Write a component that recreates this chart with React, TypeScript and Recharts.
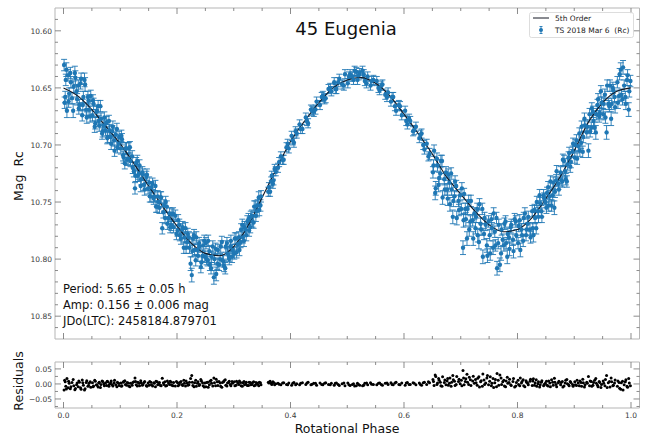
import React from "react";
import { ComposedChart, ScatterChart, Scatter, Line, XAxis, YAxis, ErrorBar } from "recharts";

// ---- first rotation of the night: phase, Rc magnitude, 1-sigma error, residual to fit ----
const cycle1Phase = [
    0.001, 0.003, 0.004, 0.006, 0.008, 0.010, 0.012, 0.015, 0.018, 0.021, 0.024,
    0.026, 0.028, 0.031, 0.033, 0.035, 0.038, 0.040, 0.043, 0.045, 0.048,
    0.051, 0.053, 0.056, 0.058, 0.061, 0.063, 0.066, 0.069, 0.072, 0.074,
    0.076, 0.078, 0.081, 0.084, 0.087, 0.089, 0.092, 0.095, 0.098,
    0.101, 0.103, 0.106, 0.109, 0.112, 0.115, 0.118, 0.121, 0.124,
    0.126, 0.128, 0.131, 0.134, 0.137, 0.140, 0.143, 0.146, 0.149,
    0.151, 0.154, 0.157, 0.160, 0.163, 0.166, 0.169, 0.172, 0.174,
    0.177, 0.179, 0.182, 0.185, 0.188, 0.191, 0.194, 0.197,
    0.201, 0.204, 0.207, 0.210, 0.213, 0.216, 0.219, 0.222, 0.224,
    0.226, 0.228, 0.231, 0.234, 0.237, 0.240, 0.243, 0.246, 0.249,
    0.251, 0.254, 0.257, 0.260, 0.263, 0.266, 0.269, 0.272, 0.274,
    0.277, 0.280, 0.283, 0.286, 0.289, 0.292, 0.295, 0.298,
    0.301, 0.304, 0.307, 0.310, 0.313, 0.316, 0.319, 0.322,
    0.326, 0.329, 0.332, 0.335, 0.338, 0.341, 0.344, 0.347,
    0.361, 0.364, 0.366, 0.369, 0.372,
    0.378, 0.383, 0.388, 0.393, 0.397,
    0.402, 0.406, 0.411, 0.416, 0.421,
    0.427, 0.431, 0.436, 0.441, 0.446,
    0.452, 0.457, 0.462, 0.467, 0.472,
    0.477, 0.481, 0.486, 0.491, 0.496,
    0.501, 0.505, 0.509, 0.513, 0.518, 0.522,
    0.527, 0.531, 0.536, 0.541, 0.546,
    0.552, 0.557, 0.562, 0.567, 0.572,
    0.577, 0.581, 0.586, 0.591, 0.596,
    0.602, 0.606, 0.611, 0.616, 0.621,
    0.627, 0.631, 0.636, 0.640, 0.645,
    0.651, 0.653, 0.656, 0.659, 0.662, 0.665, 0.668, 0.671, 0.674,
    0.676, 0.678, 0.681, 0.684, 0.687, 0.690, 0.693, 0.696, 0.699,
    0.701, 0.704, 0.706, 0.709, 0.712, 0.715, 0.718, 0.721, 0.724,
    0.726, 0.729, 0.732, 0.735, 0.738, 0.741, 0.744, 0.747, 0.749,
    0.751, 0.754, 0.757, 0.760, 0.763, 0.766, 0.769, 0.772, 0.774,
    0.777, 0.780, 0.783, 0.786, 0.789, 0.792, 0.795, 0.798,
    0.801, 0.804, 0.807, 0.810, 0.813, 0.816, 0.819, 0.822,
    0.826, 0.828, 0.831, 0.834, 0.837, 0.840, 0.843, 0.846, 0.849,
    0.851, 0.854, 0.857, 0.860, 0.863, 0.866, 0.869, 0.872,
    0.876, 0.879, 0.882, 0.885, 0.888, 0.891, 0.894, 0.897,
    0.901, 0.904, 0.907, 0.910, 0.913, 0.916, 0.919, 0.922, 0.925,
    0.927, 0.930, 0.933, 0.936, 0.939, 0.942, 0.945, 0.948,
    0.951, 0.954, 0.957, 0.960, 0.963, 0.966, 0.969, 0.972,
    0.976, 0.979, 0.982, 0.985, 0.988, 0.991, 0.994, 0.997, 0.999,
];

const cycle1Mag = [
    10.630, 10.658, 10.643, 10.670, 10.639, 10.655, 10.637, 10.659, 10.649, 10.641, 10.660,
    10.648, 10.665, 10.642, 10.674, 10.658, 10.647, 10.669, 10.658, 10.669, 10.657,
    10.674, 10.664, 10.681, 10.671, 10.666, 10.683, 10.677, 10.688, 10.676, 10.687,
    10.680, 10.693, 10.687, 10.699, 10.684, 10.696, 10.691, 10.702, 10.693,
    10.703, 10.695, 10.711, 10.703, 10.713, 10.703, 10.714, 10.710, 10.723,
    10.738, 10.716, 10.727, 10.718, 10.730, 10.726, 10.739, 10.728, 10.738,
    10.733, 10.745, 10.734, 10.745, 10.754, 10.745, 10.755, 10.746, 10.773,
    10.753, 10.764, 10.754, 10.764, 10.772, 10.761, 10.772, 10.762,
    10.775, 10.770, 10.782, 10.772, 10.781, 10.790, 10.778, 10.790, 10.804,
    10.814, 10.782, 10.792, 10.781, 10.797, 10.789, 10.803, 10.788, 10.798,
    10.786, 10.801, 10.793, 10.808, 10.789, 10.800, 10.813, 10.792, 10.805,
    10.789, 10.801, 10.806, 10.789, 10.795, 10.800, 10.784, 10.792,
    10.795, 10.782, 10.787, 10.792, 10.774, 10.781, 10.772, 10.779,
    10.765, 10.772, 10.762, 10.768, 10.754, 10.758, 10.746, 10.753,
    10.741, 10.741, 10.732, 10.734, 10.721,
    10.720, 10.710, 10.713, 10.702, 10.703,
    10.692, 10.698, 10.690, 10.682, 10.686,
    10.676, 10.681, 10.669, 10.671, 10.662,
    10.665, 10.657, 10.659, 10.651, 10.653,
    10.645, 10.651, 10.642, 10.647, 10.638,
    10.646, 10.638, 10.640, 10.635, 10.643, 10.637,
    10.635, 10.644, 10.640, 10.648, 10.643,
    10.644, 10.652, 10.647, 10.656, 10.654,
    10.662, 10.658, 10.670, 10.665, 10.674,
    10.670, 10.682, 10.679, 10.688, 10.684,
    10.694, 10.690, 10.704, 10.699, 10.708,
    10.724, 10.705, 10.738, 10.718, 10.729, 10.714, 10.746, 10.730, 10.724,
    10.739, 10.726, 10.752, 10.739, 10.749, 10.732, 10.764, 10.749, 10.744,
    10.756, 10.790, 10.743, 10.765, 10.756, 10.774, 10.749, 10.766, 10.760,
    10.773, 10.756, 10.785, 10.769, 10.756, 10.778, 10.770, 10.797, 10.767,
    10.779, 10.765, 10.790, 10.776, 10.764, 10.786, 10.805, 10.774, 10.783,
    10.769, 10.786, 10.778, 10.791, 10.770, 10.783, 10.765, 10.779,
    10.786, 10.766, 10.774, 10.784, 10.760, 10.774, 10.763, 10.774,
    10.758, 10.779, 10.764, 10.750, 10.763, 10.751, 10.763, 10.744, 10.750,
    10.755, 10.737, 10.745, 10.753, 10.733, 10.741, 10.723, 10.734,
    10.724, 10.732, 10.714, 10.730, 10.717, 10.707, 10.715, 10.706,
    10.711, 10.696, 10.701, 10.705, 10.684, 10.693, 10.683, 10.689, 10.705,
    10.673, 10.685, 10.671, 10.685, 10.673, 10.660, 10.672, 10.663,
    10.673, 10.656, 10.689, 10.664, 10.648, 10.664, 10.652, 10.667,
    10.645, 10.657, 10.634, 10.660, 10.648, 10.664, 10.639, 10.653, 10.644,
];

const cycle1Err = [
    0.005, 0.005, 0.005, 0.006, 0.005, 0.005, 0.005, 0.005, 0.005, 0.006, 0.005,
    0.005, 0.005, 0.005, 0.005, 0.005, 0.006, 0.005, 0.005, 0.005, 0.005,
    0.005, 0.005, 0.005, 0.005, 0.005, 0.005, 0.005, 0.005, 0.005, 0.005,
    0.005, 0.005, 0.005, 0.005, 0.005, 0.005, 0.005, 0.005, 0.005,
    0.005, 0.005, 0.005, 0.005, 0.005, 0.005, 0.005, 0.005, 0.005,
    0.005, 0.005, 0.005, 0.005, 0.005, 0.005, 0.005, 0.005, 0.005,
    0.005, 0.005, 0.005, 0.005, 0.005, 0.005, 0.005, 0.005, 0.005,
    0.005, 0.005, 0.005, 0.005, 0.005, 0.005, 0.005, 0.005,
    0.005, 0.005, 0.005, 0.005, 0.005, 0.005, 0.005, 0.005, 0.006,
    0.006, 0.005, 0.005, 0.005, 0.005, 0.005, 0.005, 0.005, 0.005,
    0.005, 0.005, 0.005, 0.005, 0.005, 0.005, 0.006, 0.005, 0.005,
    0.005, 0.005, 0.005, 0.005, 0.005, 0.005, 0.005, 0.005,
    0.005, 0.005, 0.005, 0.005, 0.005, 0.005, 0.005, 0.005,
    0.005, 0.005, 0.005, 0.005, 0.005, 0.005, 0.005, 0.005,
    0.004, 0.004, 0.004, 0.004, 0.004,
    0.004, 0.004, 0.004, 0.004, 0.004,
    0.004, 0.004, 0.004, 0.004, 0.004,
    0.004, 0.004, 0.004, 0.004, 0.004,
    0.004, 0.004, 0.004, 0.004, 0.004,
    0.004, 0.004, 0.004, 0.004, 0.004,
    0.004, 0.004, 0.004, 0.004, 0.004, 0.004,
    0.004, 0.004, 0.004, 0.004, 0.004,
    0.004, 0.004, 0.004, 0.004, 0.004,
    0.004, 0.004, 0.004, 0.004, 0.004,
    0.004, 0.004, 0.004, 0.004, 0.004,
    0.004, 0.004, 0.004, 0.004, 0.005,
    0.005, 0.005, 0.006, 0.005, 0.005, 0.005, 0.006, 0.005, 0.005,
    0.005, 0.005, 0.006, 0.005, 0.005, 0.005, 0.006, 0.005, 0.005,
    0.005, 0.006, 0.005, 0.006, 0.005, 0.006, 0.005, 0.005, 0.005,
    0.005, 0.005, 0.006, 0.005, 0.005, 0.005, 0.005, 0.006, 0.005,
    0.005, 0.005, 0.006, 0.005, 0.005, 0.005, 0.006, 0.005, 0.005,
    0.005, 0.005, 0.005, 0.006, 0.005, 0.005, 0.005, 0.005,
    0.005, 0.005, 0.005, 0.005, 0.005, 0.005, 0.005, 0.005,
    0.005, 0.006, 0.005, 0.005, 0.005, 0.005, 0.005, 0.005, 0.005,
    0.005, 0.005, 0.005, 0.005, 0.005, 0.005, 0.005, 0.005,
    0.005, 0.005, 0.005, 0.005, 0.005, 0.005, 0.005, 0.005,
    0.005, 0.005, 0.005, 0.005, 0.005, 0.005, 0.005, 0.005, 0.006,
    0.005, 0.005, 0.005, 0.005, 0.005, 0.005, 0.005, 0.005,
    0.005, 0.005, 0.006, 0.005, 0.005, 0.005, 0.005, 0.005,
    0.005, 0.005, 0.006, 0.005, 0.005, 0.005, 0.005, 0.005, 0.005,
];

const cycle1Resid = [
    -0.020, 0.007, -0.008, 0.018, -0.013, 0.002, -0.016, 0.005, -0.006, -0.015, 0.003,
    -0.009, 0.006, -0.018, 0.013, -0.004, -0.016, 0.005, -0.008, 0.002, -0.011,
    0.004, -0.007, 0.009, -0.003, -0.010, 0.006, -0.002, 0.008, -0.006, 0.003,
    -0.005, 0.007, -0.001, 0.010, -0.007, 0.004, -0.003, 0.006, -0.005,
    0.003, -0.006, 0.008, -0.002, 0.005, -0.007, 0.002, -0.004, 0.007,
    0.020, -0.003, 0.006, -0.006, 0.004, -0.002, 0.008, -0.005, 0.003,
    -0.004, 0.006, -0.007, 0.002, 0.009, -0.003, 0.005, -0.006, 0.019,
    -0.002, 0.007, -0.005, 0.003, 0.009, -0.004, 0.005, -0.007,
    0.004, -0.003, 0.008, -0.005, 0.002, 0.010, -0.004, 0.006, 0.018,
    0.028, -0.005, 0.004, -0.008, 0.007, -0.002, 0.010, -0.006, 0.003,
    -0.009, 0.006, -0.003, 0.012, -0.007, 0.004, 0.016, -0.005, 0.008,
    -0.008, 0.005, 0.011, -0.004, 0.003, 0.009, -0.006, 0.002,
    0.007, -0.004, 0.003, 0.010, -0.006, 0.004, -0.003, 0.006,
    -0.005, 0.005, -0.002, 0.007, -0.004, 0.003, -0.006, 0.004,
    0.006, 0.009, 0.002, 0.007, -0.003,
    0.002, -0.003, 0.004, -0.002, 0.003,
    -0.004, 0.005, 0.001, -0.003, 0.004,
    -0.002, 0.006, -0.003, 0.002, -0.004,
    0.003, -0.003, 0.004, -0.002, 0.002,
    -0.004, 0.003, -0.005, 0.001, -0.006,
    0.003, -0.005, -0.002, -0.007, 0.002, -0.004,
    -0.006, 0.002, -0.003, 0.004, -0.002,
    -0.003, 0.003, -0.004, 0.002, -0.002,
    0.004, -0.003, 0.006, -0.002, 0.003,
    -0.004, 0.005, -0.002, 0.004, -0.003,
    0.003, -0.004, 0.006, -0.002, 0.004,
    0.015, -0.005, 0.025, 0.003, 0.012, -0.006, 0.024, 0.005, -0.003,
    0.010, -0.004, 0.020, 0.006, 0.014, -0.005, 0.025, 0.008, 0.001,
    0.012, 0.045, -0.003, 0.017, 0.006, 0.022, -0.005, 0.010, 0.002,
    0.015, -0.004, 0.024, 0.007, -0.008, 0.013, 0.003, 0.028, -0.003,
    0.009, -0.006, 0.018, 0.004, -0.009, 0.012, 0.030, -0.002, 0.007,
    -0.007, 0.010, 0.002, 0.016, -0.005, 0.008, -0.010, 0.005,
    0.012, -0.006, 0.003, 0.014, -0.009, 0.006, -0.003, 0.009,
    -0.005, 0.017, 0.004, -0.008, 0.007, -0.003, 0.011, -0.006, 0.002,
    0.009, -0.007, 0.003, 0.014, -0.004, 0.006, -0.009, 0.004,
    -0.003, 0.008, -0.007, 0.012, 0.001, -0.006, 0.005, -0.002,
    0.007, -0.005, 0.003, 0.010, -0.008, 0.004, -0.003, 0.006, 0.025,
    -0.006, 0.008, -0.004, 0.012, 0.002, -0.009, 0.005, -0.002,
    0.010, -0.006, 0.028, 0.004, -0.010, 0.007, -0.004, 0.013,
    -0.008, 0.005, -0.018, 0.009, -0.003, 0.014, -0.011, 0.003, -0.006,
];

// ---- second rotation of the night ----
const cycle2Phase = [
    0.002, 0.005, 0.009, 0.013, 0.017, 0.020, 0.023,
    0.027, 0.030, 0.034, 0.037, 0.041, 0.044, 0.047,
    0.052, 0.055, 0.059, 0.062, 0.065, 0.068, 0.071,
    0.077, 0.080, 0.083, 0.086, 0.090, 0.094, 0.097,
    0.102, 0.105, 0.108, 0.111, 0.114, 0.117, 0.122,
    0.127, 0.130, 0.133, 0.136, 0.139, 0.142, 0.147,
    0.152, 0.155, 0.159, 0.162, 0.165, 0.168, 0.171,
    0.176, 0.180, 0.183, 0.187, 0.190, 0.193, 0.199,
    0.202, 0.205, 0.209, 0.212, 0.215, 0.218, 0.221,
    0.227, 0.230, 0.233, 0.236, 0.239, 0.242, 0.245, 0.248,
    0.252, 0.255, 0.258, 0.261, 0.265, 0.268, 0.271,
    0.276, 0.279, 0.282, 0.285, 0.288, 0.291, 0.294, 0.297,
    0.302, 0.305, 0.309, 0.312, 0.315, 0.318, 0.321, 0.324,
    0.327, 0.330, 0.333, 0.336, 0.339, 0.342, 0.345, 0.348,
    0.362, 0.367, 0.370, 0.374,
    0.380, 0.386, 0.395,
    0.404, 0.409, 0.418,
    0.429, 0.438, 0.444,
    0.455, 0.460, 0.470,
    0.479, 0.484, 0.494,
    0.503, 0.511, 0.516, 0.520,
    0.529, 0.534, 0.543,
    0.555, 0.560, 0.570,
    0.579, 0.584, 0.593,
    0.604, 0.609, 0.618,
    0.629, 0.634, 0.643,
    0.652, 0.655, 0.658, 0.661, 0.664, 0.667, 0.672,
    0.677, 0.680, 0.683, 0.686, 0.689, 0.692, 0.697,
    0.702, 0.705, 0.708, 0.711, 0.714, 0.717, 0.722,
    0.727, 0.730, 0.733, 0.736, 0.739, 0.742, 0.746,
    0.752, 0.755, 0.758, 0.761, 0.764, 0.767, 0.771,
    0.776, 0.779, 0.782, 0.785, 0.788, 0.793, 0.797,
    0.802, 0.805, 0.808, 0.811, 0.815, 0.818, 0.823,
    0.827, 0.830, 0.833, 0.836, 0.839, 0.842, 0.847,
    0.852, 0.855, 0.858, 0.862, 0.865, 0.868, 0.873,
    0.877, 0.880, 0.884, 0.887, 0.890, 0.893, 0.898,
    0.902, 0.905, 0.909, 0.912, 0.915, 0.918, 0.923,
    0.928, 0.931, 0.934, 0.938, 0.941, 0.944, 0.947,
    0.952, 0.955, 0.958, 0.962, 0.965, 0.968, 0.971,
    0.977, 0.980, 0.983, 0.986, 0.990, 0.993, 0.996,
];

const cycle2Mag = [
    10.663, 10.634, 10.662, 10.645, 10.670, 10.637, 10.653,
    10.668, 10.646, 10.665, 10.643, 10.676, 10.661, 10.675,
    10.661, 10.684, 10.670, 10.679, 10.666, 10.690, 10.683,
    10.694, 10.679, 10.693, 10.688, 10.705, 10.686, 10.699,
    10.692, 10.709, 10.716, 10.703, 10.712, 10.702, 10.720,
    10.727, 10.714, 10.725, 10.736, 10.724, 10.735, 10.726,
    10.745, 10.737, 10.747, 10.736, 10.754, 10.750, 10.746,
    10.759, 10.750, 10.769, 10.760, 10.770, 10.760, 10.778,
    10.766, 10.779, 10.774, 10.790, 10.773, 10.785, 10.781,
    10.793, 10.779, 10.801, 10.792, 10.786, 10.807, 10.797, 10.784,
    10.800, 10.784, 10.805, 10.798, 10.816, 10.791, 10.804,
    10.800, 10.785, 10.802, 10.808, 10.786, 10.797, 10.789, 10.798,
    10.782, 10.794, 10.781, 10.785, 10.770, 10.784, 10.774, 10.767,
    10.775, 10.763, 10.767, 10.754, 10.762, 10.753, 10.757, 10.745,
    10.737, 10.727, 10.731, 10.723,
    10.715, 10.713, 10.699,
    10.696, 10.688, 10.686,
    10.679, 10.670, 10.669,
    10.658, 10.660, 10.650,
    10.651, 10.645, 10.648,
    10.640, 10.643, 10.636, 10.639,
    10.638, 10.646, 10.644,
    10.650, 10.648, 10.658,
    10.658, 10.666, 10.666,
    10.679, 10.677, 10.687,
    10.691, 10.700, 10.710,
    10.718, 10.742, 10.712, 10.735, 10.725, 10.714, 10.739,
    10.747, 10.733, 10.725, 10.763, 10.745, 10.736, 10.757,
    10.738, 10.766, 10.756, 10.782, 10.749, 10.767, 10.782,
    10.763, 10.779, 10.752, 10.774, 10.798, 10.764, 10.788,
    10.795, 10.773, 10.760, 10.788, 10.808, 10.770, 10.795,
    10.788, 10.767, 10.798, 10.781, 10.772, 10.793, 10.767,
    10.771, 10.792, 10.779, 10.764, 10.779, 10.769, 10.781,
    10.773, 10.757, 10.773, 10.758, 10.744, 10.758, 10.747,
    10.742, 10.753, 10.732, 10.744, 10.755, 10.731, 10.739,
    10.731, 10.713, 10.723, 10.732, 10.711, 10.719, 10.699,
    10.700, 10.712, 10.690, 10.698, 10.706, 10.677, 10.684,
    10.688, 10.668, 10.679, 10.689, 10.665, 10.675, 10.653,
    10.664, 10.676, 10.648, 10.666, 10.677, 10.650, 10.658,
    10.663, 10.638, 10.656, 10.632, 10.658, 10.643, 10.669,
];

const cycle2Err = [
    0.005, 0.006, 0.005, 0.005, 0.006, 0.006, 0.005,
    0.005, 0.005, 0.005, 0.006, 0.005, 0.005, 0.005,
    0.005, 0.005, 0.005, 0.005, 0.005, 0.005, 0.005,
    0.005, 0.005, 0.005, 0.005, 0.005, 0.005, 0.005,
    0.005, 0.005, 0.005, 0.005, 0.005, 0.005, 0.005,
    0.005, 0.005, 0.005, 0.005, 0.005, 0.005, 0.005,
    0.005, 0.005, 0.005, 0.005, 0.005, 0.005, 0.005,
    0.005, 0.005, 0.005, 0.005, 0.005, 0.005, 0.005,
    0.005, 0.005, 0.005, 0.005, 0.005, 0.005, 0.005,
    0.005, 0.005, 0.005, 0.005, 0.005, 0.005, 0.005, 0.005,
    0.005, 0.005, 0.005, 0.005, 0.006, 0.005, 0.005,
    0.005, 0.005, 0.005, 0.005, 0.005, 0.005, 0.005, 0.005,
    0.005, 0.005, 0.005, 0.005, 0.005, 0.005, 0.005, 0.005,
    0.005, 0.005, 0.005, 0.005, 0.005, 0.005, 0.005, 0.005,
    0.004, 0.004, 0.004, 0.004,
    0.004, 0.004, 0.004,
    0.004, 0.004, 0.004,
    0.004, 0.004, 0.004,
    0.004, 0.004, 0.004,
    0.004, 0.004, 0.004,
    0.004, 0.004, 0.004, 0.004,
    0.004, 0.004, 0.004,
    0.004, 0.004, 0.004,
    0.004, 0.004, 0.004,
    0.004, 0.004, 0.004,
    0.004, 0.004, 0.004,
    0.005, 0.006, 0.005, 0.006, 0.005, 0.005, 0.005,
    0.006, 0.005, 0.005, 0.006, 0.005, 0.005, 0.005,
    0.005, 0.006, 0.005, 0.006, 0.005, 0.005, 0.006,
    0.005, 0.006, 0.005, 0.005, 0.006, 0.005, 0.006,
    0.006, 0.005, 0.005, 0.005, 0.006, 0.005, 0.006,
    0.005, 0.005, 0.006, 0.005, 0.005, 0.006, 0.005,
    0.005, 0.006, 0.005, 0.005, 0.005, 0.005, 0.005,
    0.005, 0.005, 0.005, 0.005, 0.005, 0.005, 0.005,
    0.005, 0.005, 0.005, 0.005, 0.006, 0.005, 0.005,
    0.005, 0.005, 0.005, 0.005, 0.005, 0.005, 0.005,
    0.005, 0.005, 0.005, 0.005, 0.005, 0.005, 0.005,
    0.005, 0.005, 0.005, 0.006, 0.005, 0.005, 0.005,
    0.005, 0.005, 0.005, 0.005, 0.006, 0.005, 0.005,
    0.005, 0.005, 0.005, 0.006, 0.005, 0.005, 0.006,
];

const cycle2Resid = [
    0.012, -0.017, 0.009, -0.009, 0.015, -0.019, -0.003,
    0.010, -0.013, 0.004, -0.020, 0.011, -0.005, 0.007,
    -0.009, 0.012, -0.004, 0.003, -0.012, 0.010, 0.001,
    0.009, -0.008, 0.004, -0.003, 0.012, -0.009, 0.002,
    -0.008, 0.006, 0.011, -0.004, 0.003, -0.009, 0.005,
    0.008, -0.007, 0.002, 0.011, -0.004, 0.005, -0.008,
    0.008, -0.003, 0.004, -0.009, 0.007, 0.001, -0.005,
    0.004, -0.007, 0.010, -0.002, 0.006, -0.006, 0.008,
    -0.006, 0.005, -0.002, 0.012, -0.007, 0.003, -0.003,
    0.006, -0.009, 0.012, 0.002, -0.005, 0.015, 0.004, -0.010,
    0.005, -0.011, 0.009, 0.002, 0.020, -0.006, 0.007,
    0.003, -0.011, 0.007, 0.014, -0.007, 0.005, -0.002, 0.008,
    -0.006, 0.009, -0.002, 0.005, -0.008, 0.008, 0.000, -0.005,
    0.006, -0.003, 0.004, -0.006, 0.005, -0.001, 0.006, -0.003,
    0.003, -0.002, 0.005, 0.001,
    -0.001, 0.003, -0.003,
    0.002, -0.003, 0.002,
    0.003, -0.001, 0.002,
    -0.002, 0.002, -0.003,
    0.002, -0.002, 0.003,
    -0.003, 0.001, -0.006, -0.002,
    -0.004, 0.003, -0.001,
    0.002, -0.002, 0.003,
    -0.002, 0.003, -0.003,
    0.003, -0.002, 0.002,
    -0.002, 0.004, 0.007,
    0.008, 0.030, -0.002, 0.018, 0.006, -0.008, 0.013,
    0.018, 0.002, -0.008, 0.028, 0.009, -0.002, 0.016,
    -0.006, 0.020, 0.008, 0.032, -0.002, 0.014, 0.026,
    0.004, 0.019, -0.010, 0.011, 0.033, -0.002, 0.020,
    0.024, 0.002, -0.012, 0.015, 0.035, -0.004, 0.020,
    0.012, -0.009, 0.022, 0.005, -0.003, 0.018, -0.007,
    -0.002, 0.020, 0.008, -0.006, 0.011, 0.002, 0.016,
    0.010, -0.004, 0.014, 0.001, -0.010, 0.006, -0.002,
    -0.004, 0.010, -0.009, 0.006, 0.019, -0.002, 0.009,
    0.005, -0.010, 0.003, 0.015, -0.003, 0.008, -0.008,
    -0.003, 0.012, -0.006, 0.005, 0.016, -0.010, 0.002,
    0.010, -0.008, 0.005, 0.018, -0.004, 0.008, -0.012,
    0.002, 0.015, -0.012, 0.008, 0.020, -0.006, 0.003,
    0.010, -0.014, 0.004, -0.020, 0.007, -0.008, 0.018,
];

// ---- 5th order Fourier fit, sampled along phase ----
const fitPhase = [
    0.000, 0.025, 0.050, 0.075, 0.100, 0.125, 0.150, 0.175, 0.200, 0.225,
    0.250, 0.275, 0.300, 0.325, 0.350, 0.375, 0.400, 0.425, 0.450, 0.475,
    0.500, 0.525, 0.550, 0.575, 0.600, 0.625, 0.650, 0.675, 0.700, 0.725,
    0.750, 0.775, 0.800, 0.825, 0.850, 0.875, 0.900, 0.925, 0.950, 0.975, 1.000,
];
const fitMag = [
    10.650, 10.657, 10.669, 10.684, 10.699, 10.717, 10.736, 10.754, 10.771, 10.786,
    10.795, 10.797, 10.789, 10.771, 10.746, 10.721, 10.697, 10.679, 10.663, 10.650,
    10.643, 10.641, 10.646, 10.657, 10.673, 10.690, 10.708, 10.728, 10.743, 10.758,
    10.770, 10.776, 10.774, 10.764, 10.747, 10.728, 10.705, 10.680, 10.663, 10.653, 10.650,
];

// ---- axis ticks ----
const phaseTicks = [
    0, 0.05, 0.1, 0.15, 0.2, 0.25, 0.3, 0.35, 0.4, 0.45, 0.5,
    0.55, 0.6, 0.65, 0.7, 0.75, 0.8, 0.85, 0.9, 0.95, 1.0,
];
const phaseMajor = [0, 0.2, 0.4, 0.6, 0.8, 1.0];
const magTicks = [
    10.59, 10.60, 10.61, 10.62, 10.63, 10.64, 10.65, 10.66, 10.67, 10.68, 10.69, 10.70, 10.71, 10.72,
    10.73, 10.74, 10.75, 10.76, 10.77, 10.78, 10.79, 10.80, 10.81, 10.82, 10.83, 10.84, 10.85, 10.86,
];
const magMajor = [10.60, 10.65, 10.70, 10.75, 10.80, 10.85];
const residTicks = [-0.075, -0.05, -0.025, 0, 0.025, 0.05];
const residMajor = [-0.05, 0, 0.05];

const infoLines = [
    "Period: 5.65 \u00b1 0.05 h",
    "Amp: 0.156 \u00b1 0.006 mag",
    "JDo(LTC): 2458184.879701",
];
const legendLabels = ["5th Order", "TS 2018 Mar 6 \u00a0(Rc)"];

const W = 645;
const H = 439;
const FONT = '"DejaVu Sans", "Liberation Sans", sans-serif';
const BLUE = "#1f77b4";
const SPINE = "#b5b5b5";
const TICK = "#6e6e6e";
const LABEL = "#3a3a3a";

const PHASE_DOMAIN: [number, number] = [-0.015, 1.015];
const MAG_DOMAIN: [number, number] = [10.58, 10.87];
const RESID_DOMAIN: [number, number] = [-0.08, 0.073];

// frame edges, in each chart's own pixel space
const PLOT_L = 55;
const PLOT_R = 639.5;
const MAIN_TOP = 8;
const MAIN_BOTTOM = 339;
const RES_OFFSET = 340;
const RES_TOP = 22;
const RES_BOTTOM = 68;

const allPhase = [...cycle1Phase, ...cycle2Phase];
const allMag = [...cycle1Mag, ...cycle2Mag];
const allErr = [...cycle1Err, ...cycle2Err];
const allResid = [...cycle1Resid, ...cycle2Resid];

const observations = allPhase.map((phase, i) => ({ phase, mag: allMag[i], err: allErr[i] }));
const residualPoints = allPhase.map((phase, i) => ({ phase, res: allResid[i] }));
const fitCurve = fitPhase.map((phase, i) => ({ phase, mag: fitMag[i] }));

type Side = "left" | "right" | "top" | "bottom";
type TickArgs = { x?: number; y?: number; payload?: { value: number } };

// matplotlib-style inward ticks, labels only on major values
function inwardTick(side: Side, edge: number, majors: number[], fmt?: (v: number) => string) {
    return function TickMark({ x = 0, y = 0, payload }: TickArgs) {
        const v = payload ? payload.value : 0;
        const major = majors.some((m) => Math.abs(m - v) < 1e-6);
        const len = major ? 6 : 3;
        if (side === "left" || side === "right") {
            const dir = side === "left" ? 1 : -1;
            return (
                <g>
                    <line x1={edge} x2={edge + dir * len} y1={y} y2={y} stroke={TICK} strokeWidth={0.8} />
                    {fmt && major ? (
                        <text x={edge - 3} y={y} dy="0.36em" textAnchor="end" fontSize={7.5} fill={LABEL} fontFamily={FONT}>
                            {fmt(v)}
                        </text>
                    ) : null}
                </g>
            );
        }
        const dir = side === "top" ? 1 : -1;
        return (
            <g>
                <line x1={x} x2={x} y1={edge} y2={edge + dir * len} stroke={TICK} strokeWidth={0.8} />
                {fmt && major ? (
                    <text x={x} y={edge + 9.7} textAnchor="middle" fontSize={7.5} fill={LABEL} fontFamily={FONT}>
                        {fmt(v)}
                    </text>
                ) : null}
            </g>
        );
    };
}

const fmtPhase = (v: number) => v.toFixed(1);
const fmtMag = (v: number) => v.toFixed(2);
const fmtResid = (v: number) => (v < 0 ? "\u2212" + Math.abs(v).toFixed(2) : v.toFixed(2));

function ObsDot(props: { cx?: number; cy?: number }) {
    if (props.cx == null || props.cy == null) return <g />;
    return <circle cx={props.cx} cy={props.cy} r={2.2} fill={BLUE} />;
}

function ResidDot(props: { cx?: number; cy?: number }) {
    if (props.cx == null || props.cy == null) return <g />;
    return <circle cx={props.cx} cy={props.cy} r={1.5} fill="#000" />;
}

function MainPanel() {
    return (
        <ComposedChart width={W} height={340} margin={{ top: MAIN_TOP - 1, right: W - PLOT_R - 1, left: 0, bottom: 0 }}>
            <XAxis
                xAxisId="b"
                type="number"
                dataKey="phase"
                domain={PHASE_DOMAIN}
                allowDataOverflow
                ticks={phaseTicks}
                interval={0}
                height={1}
                axisLine={{ stroke: SPINE, strokeWidth: 1 }}
                tickLine={false}
                tick={inwardTick("bottom", MAIN_BOTTOM, phaseMajor)}
            />
            <XAxis
                xAxisId="t"
                orientation="top"
                type="number"
                dataKey="phase"
                domain={PHASE_DOMAIN}
                allowDataOverflow
                ticks={phaseTicks}
                interval={0}
                height={1}
                axisLine={{ stroke: SPINE, strokeWidth: 1 }}
                tickLine={false}
                tick={inwardTick("top", MAIN_TOP, phaseMajor)}
            />
            <YAxis
                yAxisId="l"
                type="number"
                dataKey="mag"
                domain={MAG_DOMAIN}
                reversed
                allowDataOverflow
                ticks={magTicks}
                interval={0}
                width={PLOT_L}
                axisLine={{ stroke: SPINE, strokeWidth: 1 }}
                tickLine={false}
                tick={inwardTick("left", PLOT_L, magMajor, fmtMag)}
            />
            <YAxis
                yAxisId="r"
                orientation="right"
                type="number"
                dataKey="mag"
                domain={MAG_DOMAIN}
                reversed
                allowDataOverflow
                ticks={magTicks}
                interval={0}
                width={1}
                axisLine={{ stroke: SPINE, strokeWidth: 1 }}
                tickLine={false}
                tick={inwardTick("right", PLOT_R, magMajor)}
            />
            <Scatter
                data={observations}
                xAxisId="b"
                yAxisId="l"
                dataKey="mag"
                fill={BLUE}
                shape={<ObsDot />}
                isAnimationActive={false}
            >
                <ErrorBar dataKey="err" direction="y" width={3} stroke={BLUE} strokeWidth={0.9} />
            </Scatter>
            <Line
                data={fitCurve}
                xAxisId="b"
                yAxisId="l"
                dataKey="mag"
                type="monotone"
                stroke="#131722"
                strokeWidth={1.1}
                dot={false}
                activeDot={false}
                isAnimationActive={false}
            />
        </ComposedChart>
    );
}

function ResidualPanel() {
    return (
        <ScatterChart width={W} height={H - RES_OFFSET} margin={{ top: RES_TOP - 1, right: W - PLOT_R - 1, left: 0, bottom: 0 }}>
            <XAxis
                xAxisId="b"
                type="number"
                dataKey="phase"
                domain={PHASE_DOMAIN}
                allowDataOverflow
                ticks={phaseTicks}
                interval={0}
                height={H - RES_OFFSET - RES_BOTTOM}
                axisLine={{ stroke: SPINE, strokeWidth: 1 }}
                tickLine={false}
                tick={inwardTick("bottom", RES_BOTTOM, phaseMajor, fmtPhase)}
            />
            <XAxis
                xAxisId="t"
                orientation="top"
                type="number"
                dataKey="phase"
                domain={PHASE_DOMAIN}
                allowDataOverflow
                ticks={phaseTicks}
                interval={0}
                height={1}
                axisLine={{ stroke: SPINE, strokeWidth: 1 }}
                tickLine={false}
                tick={inwardTick("top", RES_TOP, phaseMajor)}
            />
            <YAxis
                yAxisId="l"
                type="number"
                dataKey="res"
                domain={RESID_DOMAIN}
                allowDataOverflow
                ticks={residTicks}
                interval={0}
                width={PLOT_L}
                axisLine={{ stroke: SPINE, strokeWidth: 1 }}
                tickLine={false}
                tick={inwardTick("left", PLOT_L, residMajor, fmtResid)}
            />
            <YAxis
                yAxisId="r"
                orientation="right"
                type="number"
                dataKey="res"
                domain={RESID_DOMAIN}
                allowDataOverflow
                ticks={residTicks}
                interval={0}
                width={1}
                axisLine={{ stroke: SPINE, strokeWidth: 1 }}
                tickLine={false}
                tick={inwardTick("right", PLOT_R, residMajor)}
            />
            <Scatter
                data={residualPoints}
                xAxisId="b"
                yAxisId="l"
                dataKey="res"
                fill="#000"
                shape={<ResidDot />}
                isAnimationActive={false}
            />
        </ScatterChart>
    );
}

// title, fit summary, legend and axis titles drawn over both panels
function Annotations() {
    return (
        <svg width={W} height={H} style={{ position: "absolute", left: 0, top: 0, pointerEvents: "none" }} fontFamily={FONT}>
            <text x={346} y={35} textAnchor="middle" fontSize={18} fill="#111">
                45 Eugenia
            </text>

            {infoLines.map((line, i) => (
                <text key={line} x={63} y={292.5 + i * 16} fontSize={11.5} fill="#111">
                    {line}
                </text>
            ))}

            <g>
                <rect x={529.5} y={12.5} width={104} height={25} rx={2} fill="#fff" fillOpacity={0.85} stroke="#d4d4d4" strokeWidth={0.8} />
                <line x1={533} x2={549} y1={18} y2={18} stroke="#131722" strokeWidth={1} />
                <text x={555} y={18} dy="0.36em" fontSize={7.5} fill="#222">
                    {legendLabels[0]}
                </text>
                <line x1={541} x2={541} y1={26.5} y2={33.5} stroke={BLUE} strokeWidth={0.9} />
                <line x1={539.5} x2={542.5} y1={26.5} y2={26.5} stroke={BLUE} strokeWidth={0.9} />
                <line x1={539.5} x2={542.5} y1={33.5} y2={33.5} stroke={BLUE} strokeWidth={0.9} />
                <circle cx={541} cy={30} r={2} fill={BLUE} />
                <text x={555} y={30} dy="0.36em" fontSize={7.5} fill="#222">
                    {legendLabels[1]}
                </text>
            </g>

            <text transform="translate(23, 176) rotate(-90)" textAnchor="middle" fontSize={12.5} fill="#111">
                {"Mag \u00a0Rc"}
            </text>
            <text transform="translate(23, 381) rotate(-90)" textAnchor="middle" fontSize={12.5} fill="#111">
                Residuals
            </text>
            <text x={347} y={433} textAnchor="middle" fontSize={12.5} fill="#111">
                Rotational Phase
            </text>
        </svg>
    );
}

export default function App() {
    return (
        <div style={{ position: "absolute", left: 0, top: 0, width: W, height: H, background: "#fff", fontFamily: FONT }}>
            <div style={{ position: "absolute", left: 0, top: 0 }}>
                <MainPanel />
            </div>
            <div style={{ position: "absolute", left: 0, top: RES_OFFSET }}>
                <ResidualPanel />
            </div>
            <Annotations />
        </div>
    );
}
